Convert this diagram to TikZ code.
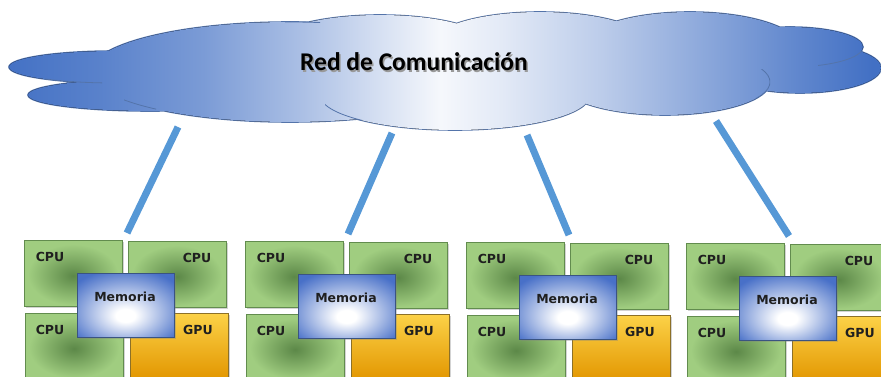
\documentclass[tikz,border=0pt]{standalone}
\usepackage{fontspec}
\setmainfont{DejaVu Sans}
\newfontfamily\titlefont{Carlito}
\usetikzlibrary{shadows}

\definecolor{cloudblue}{RGB}{66,112,196}
\definecolor{cloudedge}{RGB}{84,116,170}
\definecolor{linkblue}{RGB}{86,152,214}
\definecolor{cpulight}{RGB}{160,205,128}
\definecolor{cpudark}{RGB}{92,136,72}
\definecolor{cpuedge}{RGB}{98,140,78}
\definecolor{gputop}{RGB}{252,210,72}
\definecolor{gpubot}{RGB}{226,150,0}
\definecolor{gpuedge}{RGB}{140,112,40}
\definecolor{memblue}{RGB}{72,112,200}
\definecolor{memedge}{RGB}{58,84,130}

% tints of the cloud colour, from edge to centre
\colorlet{cbA}{cloudblue!88!white}
\colorlet{cbB}{cloudblue!70!white}
\colorlet{cbC}{cloudblue!45!white}
\colorlet{cbD}{cloudblue!22!white}
\colorlet{cbE}{cloudblue!5!white}
\colorlet{cbF}{cloudblue!15!white}
\colorlet{cbG}{cloudblue!35!white}
\colorlet{cbH}{cloudblue!60!white}
\colorlet{cbI}{cloudblue!85!white}

% shadings (the filled box spans 25bp..75bp of each shading)
\pgfdeclarehorizontalshading{cloudshade}{100bp}{%
  color(0bp)=(cloudblue); color(25bp)=(cloudblue); color(30.5bp)=(cbA);
  color(36.5bp)=(cbB); color(42bp)=(cbC); color(46.5bp)=(cbD);
  color(50bp)=(cbE); color(53.5bp)=(cbF); color(59bp)=(cbG);
  color(64.75bp)=(cbH); color(70.5bp)=(cbI); color(74.5bp)=(cloudblue);
  color(100bp)=(cloudblue)}
\pgfdeclareradialshading{cpushade}{\pgfpoint{0bp}{-2bp}}{%
  color(0bp)=(cpudark); color(23bp)=(cpulight); color(60bp)=(cpulight)}
\pgfdeclareradialshading{memshade}{\pgfpoint{0bp}{-9bp}}{%
  color(0bp)=(white); color(5bp)=(white); color(33bp)=(memblue); color(60bp)=(memblue)}

\tikzset{
  lobeA/.style={insert path={(115,67) ellipse [x radius=106pt, y radius=16pt]}},
  lobeB/.style={insert path={(150,95) ellipse [x radius=122pt, y radius=16pt]}},
  lobeC/.style={insert path={(290,72) ellipse [x radius=200pt, y radius=50pt]}},
  lobeD/.style={insert path={(380,45) ellipse [x radius=110pt, y radius=30pt]}},
  lobeE/.style={insert path={(540,45) ellipse [x radius=110pt, y radius=33pt]}},
  lobeF/.style={insert path={(455,95) ellipse [x radius=135pt, y radius=35pt]}},
  lobeG/.style={insert path={(690,48) ellipse [x radius=110pt, y radius=36pt]}},
  lobeH/.style={insert path={(790,47) ellipse [x radius=73pt, y radius=20pt]}},
  lobeI/.style={insert path={(800,68) ellipse [x radius=81pt, y radius=25pt]}},
  lobeJ/.style={insert path={(665,82) ellipse [x radius=105pt, y radius=33pt]}},
  cloudshape/.style={lobeA, lobeB, lobeC, lobeD, lobeE, lobeF, lobeG, lobeH, lobeI, lobeJ},
  cloudline/.style={cloudedge, line width=0.8pt},
  link/.style={linkblue, line width=7pt},
  unitbox/.style={anchor=north west, inner sep=0pt, outer sep=0pt,
    minimum width=98pt, minimum height=66pt,
    drop shadow={shadow xshift=1.5pt, shadow yshift=-1.5pt, opacity=0.35}},
  cpubox/.style={unitbox, draw=cpuedge, line width=0.8pt, shading=cpushade},
  gpubox/.style={unitbox, draw=gpuedge, line width=0.8pt,
    top color=gputop, bottom color=gpubot},
  membox/.style={unitbox, draw=memedge, line width=0.8pt, shading=memshade,
    minimum width=97pt, minimum height=64pt},
  lbl/.style={font=\fontsize{12.5}{14}\selectfont\bfseries, text=black!88, inner sep=0pt},
  titletext/.style={font=\titlefont\fontsize{25.5}{30}\selectfont\bfseries, inner sep=0pt}
}

% one computing node: four processors around a shared memory
\newcommand\computeunit[3]{%
  \begin{scope}[shift={(#2,#3)}]
    \node[cpubox] (#1cpua) at (0,0) {};
    \node[cpubox] (#1cpub) at (104,1) {};
    \node[cpubox] (#1cpuc) at (1,73) {};
    \node[gpubox] (#1gpu) at (106,73) {};
    \node[membox] (#1mem) at (53,33) {};
    \node[lbl] (#1cpuatxt) at (26,17) {CPU};
    \node[lbl] (#1cpubtxt) at (173,18) {CPU};
    \node[lbl] (#1cpuctxt) at (26,90) {CPU};
    \node[lbl] (#1gputxt) at (174,90) {GPU};
    \node[lbl] (#1memtxt) at (101,57) {Memoria};
    \coordinate (#1top) at (103,-7);
  \end{scope}}

% a short visible piece of one lobe outline inside the cloud
\newcommand\innerarc[5]{%
  \begin{scope}
    \clip (#2,#3) rectangle (#4,#5);
    \draw[cloudline, #1];
  \end{scope}}

\begin{document}
\begin{tikzpicture}[x=1pt, y=-1pt]
  \useasboundingbox (0,0) rectangle (881,377);
  \clip (0,0) rectangle (881,377);

  % cloud: outline first, then the shaded union on top
  \draw[cloudedge, line width=1.6pt, cloudshape];
  \begin{scope}
    \path[clip, cloudshape];
    \fill[shading=cloudshade] (0,0) rectangle (881,140);
  \end{scope}
  \innerarc{lobeA}{45}{76}{102}{90}
  \innerarc{lobeC}{124}{98}{156}{115}
  \innerarc{lobeC}{285}{14}{320}{32}
  \innerarc{lobeF}{325}{100}{362}{125}
  \innerarc{lobeJ}{695}{70}{770}{98}
  \innerarc{lobeH}{818}{52}{870}{70}

  \node[titletext, text=black!40] (netshadow) at (415.5,63.5) {Red de Comunicación};
  \node[titletext, text=black] (net) at (414,62) {Red de Comunicación};

  % attachment points under the cloud
  \coordinate (up1) at (178,127);
  \coordinate (up2) at (392,133);
  \coordinate (up3) at (527,135);
  \coordinate (up4) at (716,121);

  \computeunit{ga}{24}{240}
  \computeunit{gb}{245}{241}
  \computeunit{gc}{466}{242}
  \computeunit{gd}{686}{243}

  \draw[link] (up1) -- (gatop);
  \draw[link] (up2) -- (gbtop);
  \draw[link] (up3) -- (gctop);
  \draw[link] (up4) -- (gdtop);
\end{tikzpicture}
\end{document}
